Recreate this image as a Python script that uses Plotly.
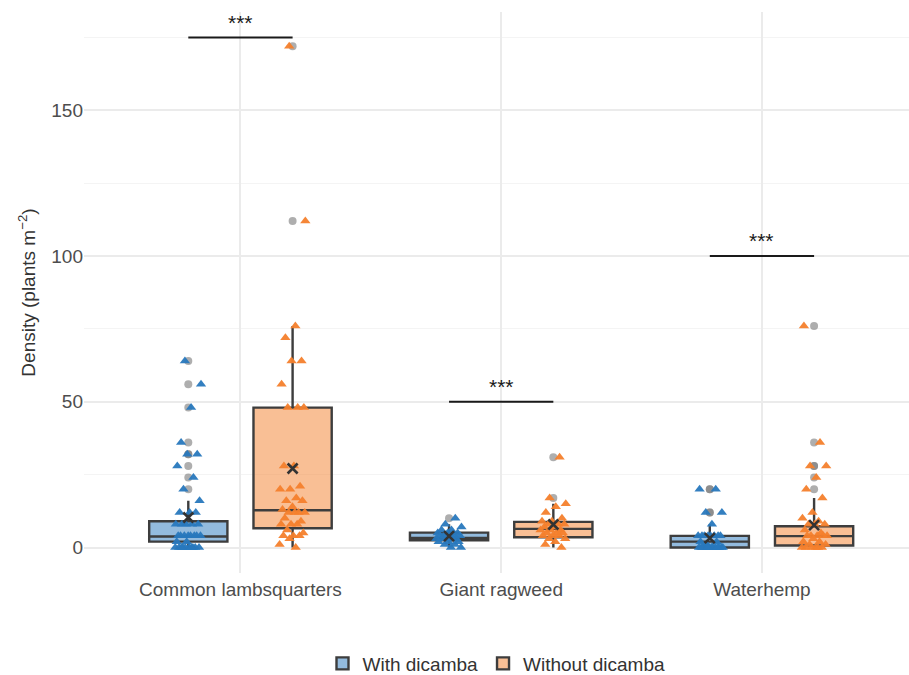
import plotly.graph_objects as go

# ---------------- data ----------------
categories = ["Common lambsquarters", "Giant ragweed", "Waterhemp"]
treatments = ["With dicamba", "Without dicamba"]

# observed densities (plants m^-2) per species, per treatment
cl_with = [64, 56, 48, 36, 32, 32, 28, 24, 20, 16, 12, 12, 12, 8, 8, 8, 8, 8,
           4, 4, 4, 4, 4, 4, 4, 4, 2, 2, 0, 0, 0, 0, 0, 0, 0, 0, 0, 0]
cl_without = [172, 112, 76, 72, 64, 64, 56, 48, 48, 48, 28, 28, 21, 20, 20, 17,
              16, 16, 14, 13, 12, 12, 12, 12, 10, 9, 8, 8, 8, 6, 5, 4, 4, 4, 3, 1, 0]
gr_with = [10, 8, 7, 6, 6, 5, 5, 5, 4, 4, 4, 4, 4, 3, 3, 3, 3, 3, 2, 2, 2, 1, 1, 0, 0]
gr_without = [31, 17, 15, 14, 12, 10, 9, 9, 8, 8, 8, 7, 7, 6, 6, 6, 5, 5, 5,
              4, 4, 4, 3, 3, 2, 1, 0]
wh_with = [20, 20, 12, 12, 8, 4, 4, 4, 4, 4, 4, 4, 4, 2, 2, 1, 0, 0, 0, 0, 0,
           0, 0, 0, 0, 0, 0, 0, 0]
wh_without = [76, 36, 28, 28, 24, 20, 17, 12, 10, 9, 8, 8, 8, 6, 5, 4, 4, 4, 4,
              4, 3, 2, 2, 1, 1, 0, 0, 0, 0, 0, 0]

# box statistics (per species)
with_q1 = [2.0, 2.5, 0.0]
with_median = [3.8, 3.3, 2.0]
with_q3 = [9.0, 5.1, 4.0]
with_lower = [0, 0, 0]
with_upper = [16, 8, 8]
with_mean = [10.3, 3.9, 3.2]

without_q1 = [6.6, 3.5, 0.7]
without_median = [12.8, 6.4, 3.9]
without_q3 = [48.0, 8.8, 7.3]
without_lower = [0, 0, 0]
without_upper = [76, 15, 17]
without_mean = [27.1, 7.9, 7.7]

# significance brackets
sig_levels = [175, 50, 100]
sig_labels = ["***", "***", "***"]

# ---------------- styling ----------------
blue = "#2878bd"
orange = "#f47f2c"
blue_fill = "rgba(40,120,189,0.5)"
orange_fill = "rgba(244,127,44,0.5)"
dodge = 0.2
box_w = 0.3
jit = 0.1
font_family = "Liberation Sans, Arial, sans-serif"

fig = go.Figure()

groups = [
    ("With dicamba", -dodge, [cl_with, gr_with, wh_with], with_q1, with_median,
     with_q3, with_lower, with_upper, with_mean, blue, blue_fill),
    ("Without dicamba", dodge, [cl_without, gr_without, wh_without], without_q1,
     without_median, without_q3, without_lower, without_upper, without_mean,
     orange, orange_fill),
]

# boxes
for name, off, vals, q1, med, q3, lo, hi, mn, col, fill in groups:
    xs = [i + off for i in range(len(categories))]
    fig.add_trace(go.Box(
        name=name, x=xs, q1=q1, median=med, q3=q3,
        lowerfence=lo, upperfence=hi,
        width=box_w, whiskerwidth=0, boxpoints=False,
        fillcolor=fill, line=dict(color="#3d3d3d", width=2.4),
        showlegend=True, hoverinfo="skip",
    ))

# outliers (grey circles at box centre)
for name, off, vals, q1, med, q3, lo, hi, mn, col, fill in groups:
    ox, oy = [], []
    for i, v in enumerate(vals):
        for y in v:
            if y > hi[i] or y < lo[i]:
                ox.append(i + off)
                oy.append(y)
    fig.add_trace(go.Scatter(
        x=ox, y=oy, mode="markers", showlegend=False, hoverinfo="skip",
        marker=dict(symbol="circle", size=8, color="rgba(120,120,120,0.6)",
                    line=dict(width=0)),
    ))

# jittered observations (triangles)
for name, off, vals, q1, med, q3, lo, hi, mn, col, fill in groups:
    px_, py_ = [], []
    for i, v in enumerate(vals):
        for k, y in enumerate(v):
            frac = (k * 0.6180339887 + 0.37 * (i + 1)) % 1.0
            px_.append(i + off + (frac - 0.5) * jit)
            py_.append(y)
    fig.add_trace(go.Scatter(
        x=px_, y=py_, mode="markers", showlegend=False, hoverinfo="skip",
        marker=dict(symbol="triangle-up", size=9, color=col, opacity=0.95,
                    line=dict(width=0)),
    ))

# means
for name, off, vals, q1, med, q3, lo, hi, mn, col, fill in groups:
    fig.add_trace(go.Scatter(
        x=[i + off for i in range(len(categories))], y=mn, mode="markers",
        showlegend=False, hoverinfo="skip",
        marker=dict(symbol="x-thin", size=10, color="#333333",
                    line=dict(width=2.6, color="#333333")),
    ))

# significance brackets
for i, (lvl, lab) in enumerate(zip(sig_levels, sig_labels)):
    fig.add_shape(type="line", x0=i - dodge, x1=i + dodge, y0=lvl, y1=lvl,
                  xref="x", yref="y", line=dict(color="#1a1a1a", width=2))
    fig.add_annotation(x=i, y=lvl, text=lab, showarrow=False, yanchor="bottom",
                       yshift=2, font=dict(size=21, color="#1a1a1a",
                                           family=font_family))

fig.update_layout(
    width=909, height=675,
    margin=dict(l=84, r=0, t=12, b=102, autoexpand=False),
    paper_bgcolor="white", plot_bgcolor="white",
    font=dict(family=font_family, size=19, color="#4d4d4d"),
    boxmode="overlay",
    legend=dict(orientation="h", xanchor="center", x=0.5, yref="container",
                yanchor="middle", y=0.017, font=dict(size=19, color="#333333"),
                itemwidth=30),
)
fig.update_xaxes(
    range=[-0.6, 2.564], tickmode="array", tickvals=[0, 1, 2],
    ticktext=categories, showgrid=True, gridcolor="#ebebeb", gridwidth=1.5,
    zeroline=False, showline=False, ticks="", automargin=False,
    ticklabelstandoff=3,
    tickfont=dict(size=19, color="#4d4d4d"),
)
fig.update_yaxes(
    range=[-8.75, 183.75], tickmode="array", tickvals=[0, 50, 100, 150],
    showgrid=True, gridcolor="#ebebeb", gridwidth=1.5,
    minor=dict(tickmode="array", tickvals=[25, 75, 125, 175], showgrid=True,
               gridcolor="#f4f4f4", gridwidth=1),
    zeroline=False, showline=False, ticks="", automargin=False,
    tickfont=dict(size=19, color="#4d4d4d"),
    title=dict(text="Density (plants m<sup>\u22122</sup>)", standoff=10,
               font=dict(size=19, color="#333333")),
)

fig.write_html("out.html",
               config={"displayModeBar": False},
               post_script="document.body.style.margin='0';"
                           "document.body.style.overflow='hidden';")
